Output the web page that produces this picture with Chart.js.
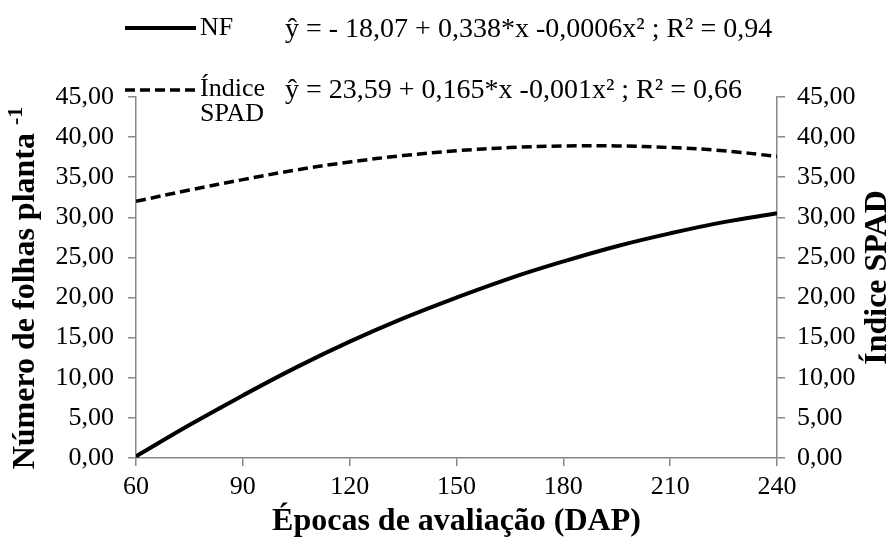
<!DOCTYPE html>
<html>
<head>
<meta charset="utf-8">
<script src="https://cdn.jsdelivr.net/npm/chart.js@4"></script>
<style>
  html, body { margin: 0; padding: 0; background: #fff; }
  #wrap { width: 896px; height: 546px; }
</style>
</head>
<body>
<div id="wrap"><canvas id="dapChart" width="896" height="546"></canvas></div>
<script>
// values
const dap = [60, 75, 90, 105, 120, 135, 150, 165, 180, 195, 210, 225, 240];
const nfValues = [0.2, 4.1, 7.8, 11.3, 14.5, 17.4, 20.0, 22.4, 24.5, 26.4, 28.0, 29.4, 30.5];
const spadValues = [32.0, 33.4, 34.7, 35.9, 36.9, 37.7, 38.3, 38.7, 38.9, 38.9, 38.7, 38.3, 37.6];
const xTicks = [60, 90, 120, 150, 180, 210, 240];

const nfEquation = 'ŷ = - 18,07 + 0,338*x -0,0006x² ; R² = 0,94';
const spadEquation = 'ŷ = 23,59 + 0,165*x -0,001x² ; R² = 0,66';

const serif = '"Liberation Serif", "Times New Roman", serif';
const axisGray = '#888888';

const ctx = document.getElementById('dapChart').getContext('2d');

const fmt = v => v.toFixed(2).replace('.', ',');

// legend + rotated titles drawn by hand
const extrasPlugin = {
    id: 'extras',
    afterDraw(chart) {
        const c = chart.ctx;
        const area = chart.chartArea;
        c.save();
        c.fillStyle = '#000';
        c.textBaseline = 'middle';

        // legend samples
        const ds0 = chart.data.datasets[0];
        const ds1 = chart.data.datasets[1];
        c.strokeStyle = ds0.borderColor;
        c.lineWidth = ds0.borderWidth;
        c.setLineDash([]);
        c.beginPath(); c.moveTo(125, 28); c.lineTo(196, 28); c.stroke();
        c.lineWidth = ds1.borderWidth;
        c.setLineDash(ds1.borderDash);
        c.beginPath(); c.moveTo(125, 90); c.lineTo(196, 90); c.stroke();
        c.setLineDash([]);

        c.font = '26px ' + serif;
        c.textAlign = 'left';
        c.fillText(ds0.label, 200, 28);
        c.fillText('Índice', 200, 89);
        c.fillText('SPAD', 200, 114);
        c.font = '28px ' + serif;
        c.fillText(nfEquation, 285, 30);
        c.fillText(spadEquation, 285, 91);

        // left axis title with superscript
        c.save();
        c.translate(26, 288);
        c.rotate(-Math.PI / 2);
        c.font = 'bold 32px ' + serif;
        const main = 'Número de folhas planta ';
        const wMain = c.measureText(main).width;
        c.font = 'bold 22px ' + serif;
        const sup = '-1';
        const wSup = c.measureText(sup).width;
        const start = -(wMain + wSup) / 2;
        c.font = 'bold 32px ' + serif;
        c.fillText(main, start, 0);
        c.font = 'bold 22px ' + serif;
        c.fillText(sup, start + wMain, -10);
        c.restore();

        // right axis title
        c.save();
        c.translate(878, (area.top + area.bottom) / 2);
        c.rotate(-Math.PI / 2);
        c.textAlign = 'center';
        c.font = 'bold 32px ' + serif;
        c.fillText('Índice SPAD', 0, 0);
        c.restore();

        c.restore();
    }
};

new Chart(ctx, {
    type: 'line',
    data: {
        datasets: [{
            label: 'NF',
            data: dap.map((x, i) => ({ x: x, y: nfValues[i] })),
            borderColor: '#000',
            borderWidth: 4,
            pointRadius: 0,
            tension: 0.4,
            yAxisID: 'y'
        }, {
            label: 'Índice SPAD',
            data: dap.map((x, i) => ({ x: x, y: spadValues[i] })),
            borderColor: '#000',
            borderWidth: 3.5,
            borderDash: [10, 5],
            pointRadius: 0,
            tension: 0.4,
            yAxisID: 'y1'
        }]
    },
    options: {
        responsive: false,
        animation: false,
        layout: { padding: { top: 97, left: 0, right: 0, bottom: 0 } },
        plugins: {
            legend: { display: false },
            tooltip: { enabled: false }
        },
        scales: {
            x: {
                type: 'linear',
                min: 60,
                max: 240,
                afterBuildTicks: axis => { axis.ticks = xTicks.map(v => ({ value: v })); },
                grid: { drawOnChartArea: false, color: axisGray, tickLength: 8, lineWidth: 1.5 },
                border: { color: axisGray, width: 1.5 },
                ticks: { color: '#000', font: { family: serif, size: 26 }, padding: 6, maxRotation: 0 },
                title: {
                    display: true,
                    text: 'Épocas de avaliação (DAP)',
                    color: '#000',
                    font: { family: serif, size: 32, weight: 'bold' },
                    padding: { top: 0, bottom: 5 }
                },
                afterFit: axis => { axis.height = 88; }
            },
            y: {
                position: 'left',
                min: 0,
                max: 45,
                grid: { drawOnChartArea: false, color: axisGray, tickLength: 8, lineWidth: 1.5 },
                border: { color: axisGray, width: 1.5 },
                ticks: { stepSize: 5, color: '#000', font: { family: serif, size: 26 }, padding: 14, callback: fmt },
                afterFit: axis => { axis.width = 136; }
            },
            y1: {
                position: 'right',
                min: 0,
                max: 45,
                grid: { drawOnChartArea: false, color: axisGray, tickLength: 8, lineWidth: 1.5 },
                border: { color: axisGray, width: 1.5 },
                ticks: { stepSize: 5, color: '#000', font: { family: serif, size: 26 }, padding: 12, callback: fmt },
                afterFit: axis => { axis.width = 119; }
            }
        }
    },
    plugins: [extrasPlugin]
});
</script>
</body>
</html>
